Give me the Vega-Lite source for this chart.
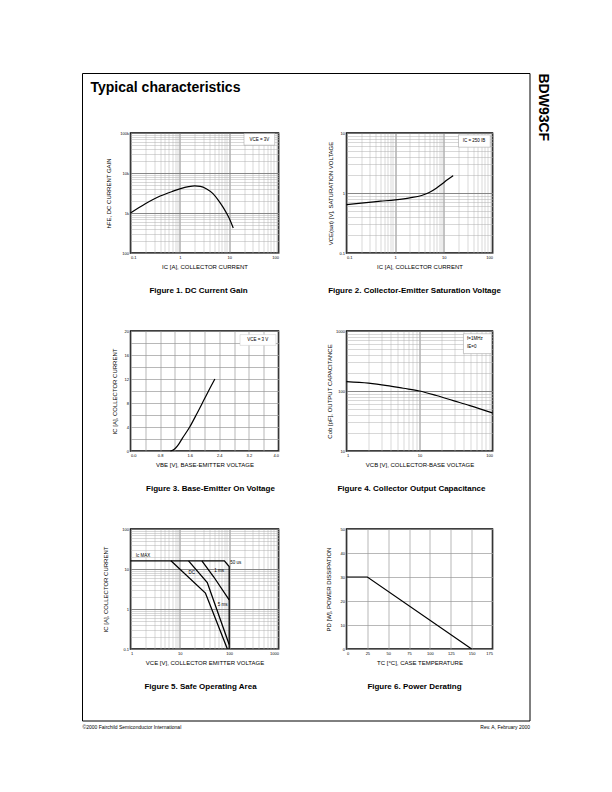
{
  "$schema": "https://vega.github.io/schema/vega-lite/v6.json",
  "padding": {"left": 81, "top": 72, "right": 5, "bottom": 5},
  "background": "white",
  "config": {
    "font": "Liberation Sans",
    "axis": {"labelFontSize": 4, "labelPadding": 2, "ticks": false, "domain": false, "titleFontSize": 6, "titleFontWeight": "normal", "titleColor": "black", "labelColor": "black", "labelOverlap": false, "gridOpacity": 1},
    "title": {"color": "black"}
  },
  "bounds": "flush",
  "spacing": 48.5,
  "hconcat": [
    {
      "bounds": "flush",
      "vconcat": [
        {
          "width": 447.5,
          "height": 647.5,
          "view": {"stroke": "black", "strokeWidth": 1},
          "title": {"text": "Typical characteristics", "anchor": "start", "frame": "group", "orient": "top", "offset": -22, "dx": 8.5, "fontSize": 14, "fontWeight": "bold"},
          "data": {"values": []},
          "mark": {"type": "point", "opacity": 0},
          "encoding": {
            "x": {"field": "pos", "type": "quantitative", "scale": {"domain": [0, 1], "nice": false, "zero": false},
              "axis": {"values": [0, 1], "labelExpr": "datum.value < 0.5 ? '©2000 Fairchild Semiconductor International' : 'Rev. A, February 2000'", "labelFlush": true, "labelFontSize": 5, "labelPadding": 4, "grid": false, "title": null}},
            "y": {"field": "side", "type": "quantitative", "scale": {"domain": [0, 1], "nice": false},
              "axis": {"orient": "right", "labels": false, "grid": false, "values": [], "title": "BDW93CF", "titleAngle": 90, "titleFontSize": 14, "titleFontWeight": "bold", "titleAnchor": "end", "titleAlign": "left", "titleBaseline": "alphabetic", "titlePadding": 9}}
          }
        }
      ]
    },
    {
      "bounds": "flush",
      "spacing": 59,
      "vconcat": [
        {"width": 1, "height": 1, "view": {"stroke": null}, "data": {"values": []}, "mark": {"type": "point", "opacity": 0}, "encoding": {}},
        {
          "bounds": "flush",
          "columns": 2,
          "spacing": {"row": 78, "column": 68},
          "concat": [
            {
              "width": 148, "height": 120,
              "view": {"stroke": "black", "strokeWidth": 1.5},
              "title": {"text": "Figure 1. DC Current Gain", "orient": "bottom", "frame": "group", "anchor": "middle", "dx": -6, "offset": 17, "fontSize": 8, "fontWeight": "bold"},
              "encoding": {
                "x": {"field": "ic", "type": "quantitative", "scale": {"type": "log", "domain": [0.1, 100], "nice": false},
                  "axis": {"values": [0.1,0.2,0.3,0.4,0.5,0.6,0.7,0.8,0.9,1,2,3,4,5,6,7,8,9,10,20,30,40,50,60,70,80,90,100],
                    "labelExpr": "abs(log(datum.value)/LN10 - round(log(datum.value)/LN10)) < 1e-6 ? format(datum.value, '~g') : ''",
                    "gridColor": {"condition": {"test": "abs(log(datum.value)/LN10 - round(log(datum.value)/LN10)) < 1e-6", "value": "#7a7a7a"}, "value": "#b0b0b0"},
                    "gridWidth": {"condition": {"test": "abs(log(datum.value)/LN10 - round(log(datum.value)/LN10)) < 1e-6", "value": 0.9}, "value": 0.5},
                    "title": "IC [A], COLLECTOR CURRENT", "titlePadding": 4.5}},
                "y": {"field": "hfe", "type": "quantitative", "scale": {"type": "log", "domain": [100, 100000], "nice": false},
                  "axis": {"values": [100,200,300,400,500,600,700,800,900,1000,2000,3000,4000,5000,6000,7000,8000,9000,10000,20000,30000,40000,50000,60000,70000,80000,90000,100000],
                    "labelExpr": "abs(log(datum.value)/LN10 - round(log(datum.value)/LN10)) < 1e-6 ? (datum.value >= 1000 ? format(datum.value/1000, '~g') + 'k' : format(datum.value, '~g')) : ''",
                    "gridColor": {"condition": {"test": "abs(log(datum.value)/LN10 - round(log(datum.value)/LN10)) < 1e-6", "value": "#7a7a7a"}, "value": "#b0b0b0"},
                    "gridWidth": {"condition": {"test": "abs(log(datum.value)/LN10 - round(log(datum.value)/LN10)) < 1e-6", "value": 0.9}, "value": 0.5},
                    "title": "hFE, DC CURRENT GAIN", "titlePadding": 8}}
              },
              "layer": [
                {"data": {"values": [{"ic": 20, "ic2": 84, "hfe": 49500, "hfe2": 97000}]},
                 "mark": {"type": "rect", "fill": "white", "stroke": "#999999", "strokeWidth": 0.5},
                 "encoding": {"x2": {"field": "ic2"}, "y2": {"field": "hfe2"}}},
                {"data": {"values": [{"ic": 41, "hfe": 68000, "label": "VCE = 3V"}]},
                 "mark": {"type": "text", "fontSize": 4.5},
                 "encoding": {"text": {"field": "label"}}},
                {"data": {"values": [
                  {"ic": 0.1, "hfe": 1000}, {"ic": 0.2, "hfe": 1700}, {"ic": 0.4, "hfe": 2650}, {"ic": 0.7, "hfe": 3450},
                  {"ic": 1, "hfe": 4000}, {"ic": 1.5, "hfe": 4550}, {"ic": 2, "hfe": 4750}, {"ic": 2.6, "hfe": 4650},
                  {"ic": 3.5, "hfe": 4000}, {"ic": 4.7, "hfe": 3050}, {"ic": 6, "hfe": 2100}, {"ic": 7.5, "hfe": 1400},
                  {"ic": 9, "hfe": 950}, {"ic": 10.5, "hfe": 650}, {"ic": 12.1, "hfe": 420}]},
                 "mark": {"type": "line", "interpolate": "monotone", "color": "black", "strokeWidth": 1.2},
                 "encoding": {}}
              ]
            },
            {
              "width": 146, "height": 120,
              "view": {"stroke": "black", "strokeWidth": 1.5},
              "title": {"text": "Figure 2. Collector-Emitter Saturation Voltage", "orient": "bottom", "frame": "group", "anchor": "middle", "dx": -5, "offset": 17, "fontSize": 8, "fontWeight": "bold"},
              "encoding": {
                "x": {"field": "ic", "type": "quantitative", "scale": {"type": "log", "domain": [0.1, 100], "nice": false},
                  "axis": {"values": [0.1,0.2,0.3,0.4,0.5,0.6,0.7,0.8,0.9,1,2,3,4,5,6,7,8,9,10,20,30,40,50,60,70,80,90,100],
                    "labelExpr": "abs(log(datum.value)/LN10 - round(log(datum.value)/LN10)) < 1e-6 ? format(datum.value, '~g') : ''",
                    "gridColor": {"condition": {"test": "abs(log(datum.value)/LN10 - round(log(datum.value)/LN10)) < 1e-6", "value": "#7a7a7a"}, "value": "#b0b0b0"},
                    "gridWidth": {"condition": {"test": "abs(log(datum.value)/LN10 - round(log(datum.value)/LN10)) < 1e-6", "value": 0.9}, "value": 0.5},
                    "title": "IC [A], COLLECTOR CURRENT", "titlePadding": 4.5}},
                "y": {"field": "vce", "type": "quantitative", "scale": {"type": "log", "domain": [0.1, 10], "nice": false},
                  "axis": {"values": [0.1,0.2,0.3,0.4,0.5,0.6,0.7,0.8,0.9,1,2,3,4,5,6,7,8,9,10],
                    "labelExpr": "abs(log(datum.value)/LN10 - round(log(datum.value)/LN10)) < 1e-6 ? format(datum.value, '~g') : ''",
                    "gridColor": {"condition": {"test": "abs(log(datum.value)/LN10 - round(log(datum.value)/LN10)) < 1e-6", "value": "#7a7a7a"}, "value": "#b0b0b0"},
                    "gridWidth": {"condition": {"test": "abs(log(datum.value)/LN10 - round(log(datum.value)/LN10)) < 1e-6", "value": 0.9}, "value": 0.5},
                    "title": "VCE(sat) [V], SATURATION VOLTAGE", "titlePadding": 5.4}}
              },
              "layer": [
                {"data": {"values": [{"ic": 20, "ic2": 90, "vce": 5.8, "vce2": 9.3}]},
                 "mark": {"type": "rect", "fill": "white", "stroke": "#999999", "strokeWidth": 0.5},
                 "encoding": {"x2": {"field": "ic2"}, "y2": {"field": "vce2"}}},
                {"data": {"values": [{"ic": 41.6, "vce": 7.3, "label": "IC = 250 IB"}]},
                 "mark": {"type": "text", "fontSize": 4.5},
                 "encoding": {"text": {"field": "label"}}},
                {"data": {"values": [
                  {"ic": 0.1, "vce": 0.64}, {"ic": 0.2, "vce": 0.68}, {"ic": 0.5, "vce": 0.73}, {"ic": 1, "vce": 0.77},
                  {"ic": 2, "vce": 0.83}, {"ic": 3.5, "vce": 0.91}, {"ic": 5, "vce": 1.02}, {"ic": 7, "vce": 1.2},
                  {"ic": 9, "vce": 1.4}, {"ic": 12, "vce": 1.68}, {"ic": 15.5, "vce": 1.95}]},
                 "mark": {"type": "line", "interpolate": "monotone", "color": "black", "strokeWidth": 1.2},
                 "encoding": {}}
              ]
            },
            {
              "width": 148, "height": 120,
              "view": {"stroke": "black", "strokeWidth": 1.5},
              "title": {"text": "Figure 3. Base-Emitter On Voltage", "orient": "bottom", "frame": "group", "anchor": "middle", "dx": 6, "offset": 17, "fontSize": 8, "fontWeight": "bold"},
              "encoding": {
                "x": {"field": "vbe", "type": "quantitative", "scale": {"domain": [0, 4], "nice": false, "zero": false},
                  "axis": {"values": [0,0.4,0.8,1.2,1.6,2,2.4,2.8,3.2,3.6,4],
                    "labelExpr": "abs(datum.value/0.8 - round(datum.value/0.8)) < 1e-6 ? format(datum.value, '.1f') : ''",
                    "gridColor": "#9a9a9a", "gridWidth": 0.7,
                    "title": "VBE [V], BASE-EMITTER VOLTAGE", "titlePadding": 4.5}},
                "y": {"field": "ic", "type": "quantitative", "scale": {"domain": [0, 20], "nice": false},
                  "axis": {"values": [0,2,4,6,8,10,12,14,16,18,20],
                    "labelExpr": "datum.value % 4 == 0 ? format(datum.value, 'd') : ''",
                    "gridColor": "#9a9a9a", "gridWidth": 0.7,
                    "title": "IC [A], COLLECTOR CURRENT", "titlePadding": 6.6}}
              },
              "layer": [
                {"data": {"values": [{"vbe": 2.96, "vbe2": 3.93, "ic": 17.6, "ic2": 19.4}]},
                 "mark": {"type": "rect", "fill": "white", "stroke": "#bbbbbb", "strokeWidth": 0.4},
                 "encoding": {"x2": {"field": "vbe2"}, "y2": {"field": "ic2"}}},
                {"data": {"values": [{"vbe": 3.44, "ic": 18.5, "label": "VCE = 3 V"}]},
                 "mark": {"type": "text", "fontSize": 4.5},
                 "encoding": {"text": {"field": "label"}}},
                {"data": {"values": [
                  {"vbe": 1.08, "ic": 0}, {"vbe": 1.15, "ic": 0.15}, {"vbe": 1.22, "ic": 0.5}, {"vbe": 1.3, "ic": 1.1},
                  {"vbe": 1.4, "ic": 2.1}, {"vbe": 1.6, "ic": 4}, {"vbe": 1.8, "ic": 6.3}, {"vbe": 2, "ic": 8.7},
                  {"vbe": 2.15, "ic": 10.5}, {"vbe": 2.28, "ic": 12}]},
                 "mark": {"type": "line", "interpolate": "monotone", "color": "black", "strokeWidth": 1.2},
                 "encoding": {}}
              ]
            },
            {
              "width": 146, "height": 120,
              "view": {"stroke": "black", "strokeWidth": 1.5},
              "title": {"text": "Figure 4. Collector Output Capacitance", "orient": "bottom", "frame": "group", "anchor": "middle", "dx": -8, "offset": 17, "fontSize": 8, "fontWeight": "bold"},
              "encoding": {
                "x": {"field": "vcb", "type": "quantitative", "scale": {"type": "log", "domain": [1, 100], "nice": false},
                  "axis": {"values": [1,2,3,4,5,6,7,8,9,10,20,30,40,50,60,70,80,90,100],
                    "labelExpr": "abs(log(datum.value)/LN10 - round(log(datum.value)/LN10)) < 1e-6 ? format(datum.value, '~g') : ''",
                    "gridColor": {"condition": {"test": "abs(log(datum.value)/LN10 - round(log(datum.value)/LN10)) < 1e-6", "value": "#7a7a7a"}, "value": "#b0b0b0"},
                    "gridWidth": {"condition": {"test": "abs(log(datum.value)/LN10 - round(log(datum.value)/LN10)) < 1e-6", "value": 0.9}, "value": 0.5},
                    "title": "VCB [V], COLLECTOR-BASE VOLTAGE", "titlePadding": 4.5}},
                "y": {"field": "cob", "type": "quantitative", "scale": {"type": "log", "domain": [10, 1000], "nice": false},
                  "axis": {"values": [10,20,30,40,50,60,70,80,90,100,200,300,400,500,600,700,800,900,1000],
                    "labelExpr": "abs(log(datum.value)/LN10 - round(log(datum.value)/LN10)) < 1e-6 ? format(datum.value, '~g') : ''",
                    "gridColor": {"condition": {"test": "abs(log(datum.value)/LN10 - round(log(datum.value)/LN10)) < 1e-6", "value": "#7a7a7a"}, "value": "#b0b0b0"},
                    "gridWidth": {"condition": {"test": "abs(log(datum.value)/LN10 - round(log(datum.value)/LN10)) < 1e-6", "value": 0.9}, "value": 0.5},
                    "title": "Cob [pF], OUTPUT CAPACITANCE", "titlePadding": 3.1}}
              },
              "layer": [
                {"data": {"values": [{"vcb": 40, "vcb2": 97, "cob": 420, "cob2": 900}]},
                 "mark": {"type": "rect", "fill": "white", "stroke": "#999999", "strokeWidth": 0.5},
                 "encoding": {"x2": {"field": "vcb2"}, "y2": {"field": "cob2"}}},
                {"data": {"values": [{"vcb": 44.8, "cob": 726, "label": "f=1MHz"}, {"vcb": 44.8, "cob": 533, "label": "IE=0"}]},
                 "mark": {"type": "text", "fontSize": 4.5, "align": "left"},
                 "encoding": {"text": {"field": "label"}}},
                {"data": {"values": [
                  {"vcb": 1, "cob": 143}, {"vcb": 2, "cob": 135}, {"vcb": 3.6, "cob": 123}, {"vcb": 6, "cob": 111},
                  {"vcb": 10, "cob": 100}, {"vcb": 17, "cob": 84}, {"vcb": 29, "cob": 69}, {"vcb": 49, "cob": 57},
                  {"vcb": 100, "cob": 43}]},
                 "mark": {"type": "line", "interpolate": "monotone", "color": "black", "strokeWidth": 1.2},
                 "encoding": {}}
              ]
            },
            {
              "width": 148, "height": 120,
              "view": {"stroke": "black", "strokeWidth": 1.5},
              "title": {"text": "Figure 5. Safe Operating Area", "orient": "bottom", "frame": "group", "anchor": "middle", "dx": -4, "offset": 17, "fontSize": 8, "fontWeight": "bold"},
              "encoding": {
                "x": {"field": "vce", "type": "quantitative", "scale": {"type": "log", "domain": [1, 1000], "nice": false},
                  "axis": {"values": [1,2,3,4,5,6,7,8,9,10,20,30,40,50,60,70,80,90,100,200,300,400,500,600,700,800,900,1000],
                    "labelExpr": "abs(log(datum.value)/LN10 - round(log(datum.value)/LN10)) < 1e-6 ? format(datum.value, '~g') : ''",
                    "gridColor": {"condition": {"test": "abs(log(datum.value)/LN10 - round(log(datum.value)/LN10)) < 1e-6", "value": "#7a7a7a"}, "value": "#b0b0b0"},
                    "gridWidth": {"condition": {"test": "abs(log(datum.value)/LN10 - round(log(datum.value)/LN10)) < 1e-6", "value": 0.9}, "value": 0.5},
                    "title": "VCE [V], COLLECTOR EMITTER VOLTAGE", "titlePadding": 4.5}},
                "y": {"field": "ic", "type": "quantitative", "scale": {"type": "log", "domain": [0.1, 100], "nice": false},
                  "axis": {"values": [0.1,0.2,0.3,0.4,0.5,0.6,0.7,0.8,0.9,1,2,3,4,5,6,7,8,9,10,20,30,40,50,60,70,80,90,100],
                    "labelExpr": "abs(log(datum.value)/LN10 - round(log(datum.value)/LN10)) < 1e-6 ? format(datum.value, '~g') : ''",
                    "gridColor": {"condition": {"test": "abs(log(datum.value)/LN10 - round(log(datum.value)/LN10)) < 1e-6", "value": "#7a7a7a"}, "value": "#b0b0b0"},
                    "gridWidth": {"condition": {"test": "abs(log(datum.value)/LN10 - round(log(datum.value)/LN10)) < 1e-6", "value": 0.9}, "value": 0.5},
                    "title": "IC [A], COLLECTOR CURRENT", "titlePadding": 13.3}}
              },
              "layer": [
                {"data": {"values": [
                  {"mode": "50 us", "vce": 1, "ic": 16}, {"mode": "50 us", "vce": 80, "ic": 16}, {"mode": "50 us", "vce": 100, "ic": 11.5}, {"mode": "50 us", "vce": 100, "ic": 0.1},
                  {"mode": "1 ms", "vce": 28, "ic": 16}, {"mode": "1 ms", "vce": 48.5, "ic": 6.4}, {"mode": "1 ms", "vce": 100, "ic": 1.7},
                  {"mode": "5 ms", "vce": 15, "ic": 16}, {"mode": "5 ms", "vce": 36, "ic": 4.6}, {"mode": "5 ms", "vce": 100, "ic": 0.13},
                  {"mode": "DC", "vce": 6.6, "ic": 16}, {"mode": "DC", "vce": 33, "ic": 2.5}, {"mode": "DC", "vce": 92, "ic": 0.1}]},
                 "mark": {"type": "line", "color": "black", "strokeWidth": 1.3},
                 "encoding": {"detail": {"field": "mode"}}},
                {"data": {"values": [
                  {"vce": 1.28, "ic": 21.4, "label": "Ic MAX"}, {"vce": 105, "ic": 13.8, "label": "50 us"},
                  {"vce": 50, "ic": 9.1, "label": "1 ms"}, {"vce": 14.9, "ic": 8.1, "label": "DC"}, {"vce": 59, "ic": 1.25, "label": "5 ms"}]},
                 "mark": {"type": "text", "fontSize": 4.5, "align": "left"},
                 "encoding": {"text": {"field": "label"}}}
              ]
            },
            {
              "width": 146, "height": 120,
              "view": {"stroke": "black", "strokeWidth": 1.5},
              "title": {"text": "Figure 6. Power Derating", "orient": "bottom", "frame": "group", "anchor": "middle", "dx": -5, "offset": 17, "fontSize": 8, "fontWeight": "bold"},
              "encoding": {
                "x": {"field": "tc", "type": "quantitative", "scale": {"domain": [0, 175], "nice": false},
                  "axis": {"values": [0,25,50,75,100,125,150,175], "format": "d",
                    "gridColor": "#9a9a9a", "gridWidth": 0.7,
                    "title": "TC [°C], CASE TEMPERATURE", "titlePadding": 4.5}},
                "y": {"field": "pd", "type": "quantitative", "scale": {"domain": [0, 50], "nice": false},
                  "axis": {"values": [0,10,20,30,40,50], "format": "d",
                    "gridColor": "#9a9a9a", "gridWidth": 0.7,
                    "title": "PD [W], POWER DISSIPATION", "titlePadding": 8.6}}
              },
              "layer": [
                {"data": {"values": [{"tc": 0, "pd": 30}, {"tc": 25, "pd": 30}, {"tc": 150, "pd": 0}]},
                 "mark": {"type": "line", "color": "black", "strokeWidth": 1.2},
                 "encoding": {}}
              ]
            }
          ]
        }
      ]
    }
  ]
}
